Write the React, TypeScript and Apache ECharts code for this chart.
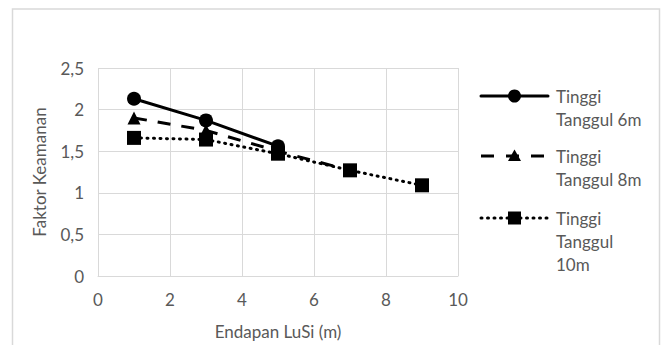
import React, { useEffect, useRef } from "react";
import * as echarts from "echarts";

const xValues = [1, 3, 5, 7, 9];
const fs6m = [2.13, 1.87, 1.56];
const fs8m = [1.9, 1.75, 1.5, 1.27];
const fs10m = [1.66, 1.64, 1.47, 1.27, 1.09];
const seriesNames = ["Tinggi Tanggul 6m", "Tinggi Tanggul 8m", "Tinggi Tanggul 10m"];
const legendLines = [["Tinggi", "Tanggul 6m"], ["Tinggi", "Tanggul 8m"], ["Tinggi", "Tanggul", "10m"]];
const xTitle = "Endapan LuSi (m)";
const yTitle = "Faktor Keamanan";

const FONT = "Lato";
const FS = 17;
const TXT = "#595959";
const GRID = "#d9d9d9";

function pairs(vals: number[]) {
  return vals.map((v, i) => [xValues[i], v]);
}

export default function App() {
  const ref = useRef<HTMLDivElement>(null);
  useEffect(() => {
    if (!ref.current) return;
    const chart = echarts.init(ref.current, undefined, { renderer: "svg" });
    const legendY = [96, 156, 218];
    const lineH = 23;
    const graphics: any[] = [
      {
        type: "rect",
        shape: { x: 12.5, y: 9, width: 647, height: 345 },
        style: { fill: "none", stroke: GRID, lineWidth: 1.5 },
        silent: true,
      },
    ];
    const dashes: any[] = [null, [13, 12], [1, 5.5]];
    legendLines.forEach((lines, i) => {
      const y = legendY[i];
      graphics.push({
        type: "polyline",
        shape: { points: [[481, y], [548, y]] },
        style: { stroke: "#000", lineWidth: 3, lineDash: dashes[i], lineCap: i === 1 ? "butt" : "round" },
      });
      if (i === 0) {
        graphics.push({ type: "circle", shape: { cx: 514.5, cy: y, r: 6.5 }, style: { fill: "#000" } });
      } else if (i === 1) {
        graphics.push({
          type: "polygon",
          shape: { points: [[514.5, y - 6.5], [521, y + 5], [508, y + 5]] },
          style: { fill: "#000" },
        });
      } else {
        graphics.push({ type: "rect", shape: { x: 508, y: y - 6.5, width: 13, height: 13 }, style: { fill: "#000" } });
      }
      lines.forEach((t, j) => {
        graphics.push({
          type: "text",
          x: 556,
          y: y + j * lineH,
          style: { text: t, fill: TXT, font: `${FS}px ${FONT}`, textVerticalAlign: "middle", textAlign: "left" },
        });
      });
    });

    chart.setOption({
      animation: false,
      backgroundColor: "#fff",
      textStyle: { fontFamily: FONT },
      grid: { left: 98, right: 207, top: 68, bottom: 66, containLabel: false },
      xAxis: {
        type: "value",
        min: 0,
        max: 10,
        interval: 2,
        name: xTitle,
        nameLocation: "middle",
        nameGap: 47,
        nameTextStyle: { color: TXT, fontSize: FS, fontFamily: FONT },
        axisLine: { show: true, lineStyle: { color: GRID, width: 1 } },
        axisTick: { show: false },
        axisLabel: { color: TXT, fontSize: FS, fontFamily: FONT, margin: 15 },
        splitLine: { show: true, lineStyle: { color: GRID, width: 1 } },
      },
      yAxis: {
        type: "value",
        min: 0,
        max: 2.5,
        interval: 0.5,
        name: yTitle,
        nameLocation: "middle",
        nameGap: 50,
        nameTextStyle: { color: TXT, fontSize: FS, fontFamily: FONT },
        axisLine: { show: false },
        axisTick: { show: false },
        axisLabel: {
          color: TXT,
          fontSize: FS,
          fontFamily: FONT,
          margin: 14,
          formatter: (v: number) => String(v).replace(".", ","),
        },
        splitLine: { show: true, lineStyle: { color: GRID, width: 1 } },
      },
      graphic: graphics,
      series: [
        {
          name: seriesNames[0],
          type: "line",
          data: pairs(fs6m),
          symbol: "circle",
          symbolSize: 14,
          itemStyle: { color: "#000" },
          lineStyle: { color: "#000", width: 3, type: "solid" },
        },
        {
          name: seriesNames[1],
          type: "line",
          data: pairs(fs8m),
          symbol: "triangle",
          symbolSize: 13,
          itemStyle: { color: "#000" },
          lineStyle: { color: "#000", width: 3, type: [13, 11], cap: "butt" },
        },
        {
          name: seriesNames[2],
          type: "line",
          data: pairs(fs10m),
          symbol: "rect",
          symbolSize: 14,
          itemStyle: { color: "#000" },
          lineStyle: { color: "#000", width: 3, type: [1, 5.5], cap: "round" },
        },
      ],
    });
    return () => chart.dispose();
  }, []);
  return (
    <div
      ref={ref}
      style={{ position: "fixed", left: 0, top: 0, width: 665, height: 345, background: "#fff" }}
    />
  );
}
